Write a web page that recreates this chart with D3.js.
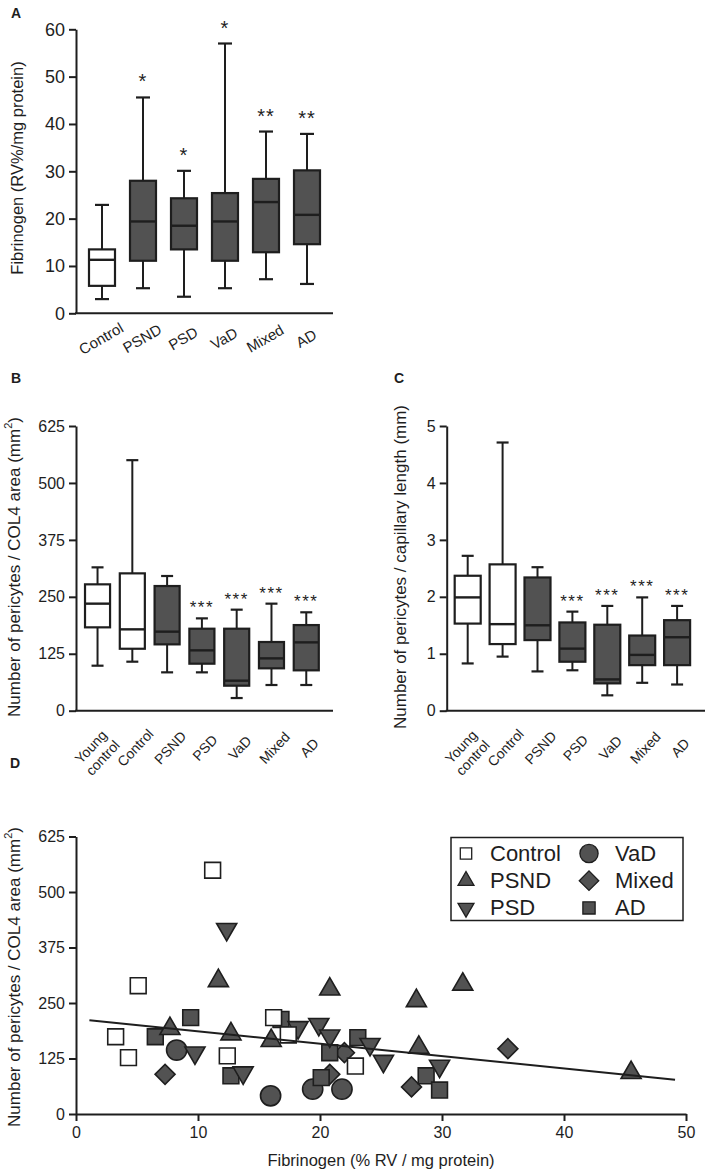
<!DOCTYPE html>
<html><head><meta charset="utf-8">
<script src="https://cdn.jsdelivr.net/npm/d3@7"></script>
<style>
body{margin:0;background:#fff}
svg{display:block}
text{font-family:"Liberation Sans",Arial,sans-serif;fill:#1e1e1e}
</style>
</head><body>
<svg id="c" width="709" height="1174"></svg>
<script>
// ---------- DATA ----------
// Panel A: fibrinogen
const catsA = ["Control","PSND","PSD","VaD","Mixed","AD"];
const minA  = [3.0, 5.3, 3.5, 5.3, 7.2, 6.2];
const q1A   = [5.8, 11.1, 13.5, 11.1, 12.9, 14.6];
const medA  = [11.3, 19.4, 18.5, 19.4, 23.5, 20.8];
const q3A   = [13.5, 28.0, 24.3, 25.4, 28.4, 30.2];
const maxA  = [22.9, 45.6, 30.1, 57.0, 38.4, 37.9];
const sigA  = ["", "*", "*", "*", "**", "**"];
const ticksA = [0, 10, 20, 30, 40, 50, 60];

// Panel B: pericytes / COL4 area
const catsBC = ["Young control","Control","PSND","PSD","VaD","Mixed","AD"];
const minB  = [98.8, 107.6, 84.2, 84.2, 27.8, 56.4, 56.4];
const q1B   = [183, 136, 145.6, 103.2, 54.9, 93, 88.6];
const medB  = [235, 178.6, 173.5, 132.5, 65.9, 114.9, 150];
const q3B   = [277.4, 301.5, 273.7, 180, 180, 150.8, 188];
const maxB  = [314.7, 550, 295.7, 202.7, 221.8, 235, 216];
const sigB  = ["", "", "", "***", "***", "***", "***"];
const ticksB = [0, 125, 250, 375, 500, 625];

// Panel C: pericytes / capillary length
const minC  = [0.83, 0.95, 0.69, 0.71, 0.27, 0.49, 0.46];
const q1C   = [1.53, 1.17, 1.24, 0.86, 0.48, 0.80, 0.80];
const medC  = [1.99, 1.52, 1.50, 1.09, 0.55, 0.98, 1.29];
const q3C   = [2.37, 2.57, 2.34, 1.55, 1.51, 1.32, 1.59];
const maxC  = [2.72, 4.71, 2.52, 1.74, 1.84, 1.99, 1.84];
const sigC  = ["", "", "", "***", "***", "***", "***"];
const ticksC = [0, 1, 2, 3, 4, 5];

// Panel D: scatter (fibrinogen vs pericytes / COL4 area)
const ctrlX = [11.2, 5.1, 3.25, 4.3, 12.4, 16.2, 17.4, 22.9];
const ctrlY = [549, 289, 174, 127, 131, 217, 178, 108];
const psndX = [11.67, 7.7, 12.7, 16.0, 20.8, 27.9, 31.7, 28.1, 45.5];
const psndY = [300, 192, 180, 165, 281, 255, 292, 150, 93];
const psdX  = [12.35, 9.75, 13.7, 18.2, 19.9, 20.8, 24.1, 25.2, 29.8];
const psdY  = [416, 138, 93, 195, 202, 176, 157, 119, 108];
const vadX  = [8.25, 15.95, 19.4, 21.8];
const vadY  = [144, 41, 56, 56];
const mixX  = [7.3, 22.0, 20.8, 27.5, 35.4];
const mixY  = [89.5, 138, 89.5, 61, 147];
const adX   = [9.4, 6.5, 12.7, 16.8, 20.8, 23.1, 20.1, 28.7, 29.8];
const adY   = [217, 174, 86, 213, 138, 172, 82, 86, 54];
const regX  = [1.1, 49.1];
const regY  = [211, 77];
const ticksDx = [0, 10, 20, 30, 40, 50];
const ticksDy = [0, 125, 250, 375, 500, 625];
const legendNames = ["Control","PSND","PSD","VaD","Mixed","AD"];

// ---------- DRAW ----------
const svg = d3.select("#c");
const DARK = "#525252";
const INK = "#1e1e1e";
const fmt = d3.format("~g");

function styleAxis(sel, fs) {
  sel.select(".domain").attr("stroke", INK).attr("stroke-width", 2);
  sel.selectAll(".tick line").attr("stroke", INK).attr("stroke-width", 2);
  sel.selectAll(".tick text").attr("font-size", fs).attr("fill", INK);
}

function boxPanel(c) {
  const g = svg.append("g");
  const y = d3.scaleLinear().domain([0, c.yMax]).range([c.yBot, c.yTop]);
  const x = d3.scaleBand().domain(c.cats).range(c.band).paddingInner(c.padIn).paddingOuter(c.padOut);
  const ya = g.append("g").attr("transform", `translate(${c.x0},0)`)
    .call(d3.axisLeft(y).tickValues(c.ticks).tickFormat(fmt).tickSize(7).tickSizeOuter(0).tickPadding(4));
  styleAxis(ya, c.tickFs);
  g.append("line").attr("x1", c.x0 - 1).attr("x2", c.x1).attr("y1", c.yBot).attr("y2", c.yBot)
    .attr("stroke", INK).attr("stroke-width", 2);
  const bw = x.bandwidth();
  c.cats.forEach((cat, i) => {
    const cx = x(cat) + bw / 2;
    const light = cat.toLowerCase().includes("control");
    g.append("line").attr("x1", cx).attr("x2", cx).attr("y1", y(c.mins[i])).attr("y2", y(c.maxs[i]))
      .attr("stroke", INK).attr("stroke-width", 2);
    [c.mins[i], c.maxs[i]].forEach(v => g.append("line").attr("x1", cx - c.cap / 2).attr("x2", cx + c.cap / 2)
      .attr("y1", y(v)).attr("y2", y(v)).attr("stroke", INK).attr("stroke-width", 2.2));
    g.append("rect").attr("x", x(cat)).attr("width", bw).attr("y", y(c.q3s[i]))
      .attr("height", y(c.q1s[i]) - y(c.q3s[i])).attr("fill", light ? "#fff" : DARK)
      .attr("stroke", INK).attr("stroke-width", 2.2);
    g.append("line").attr("x1", x(cat)).attr("x2", x(cat) + bw).attr("y1", y(c.meds[i])).attr("y2", y(c.meds[i]))
      .attr("stroke", INK).attr("stroke-width", 2.4);
    if (c.sig[i]) {
      g.append("text").attr("x", cx).attr("y", y(c.maxs[i]) - c.starGap).attr("text-anchor", "middle")
        .attr("font-size", c.starFs).attr("letter-spacing", c.starLs).attr("fill", "#333").text(c.sig[i]);
    }
    const lg = g.append("g").attr("transform", `translate(${cx + c.labDx},${c.yBot + c.labDy}) rotate(${c.labAng})`);
    const parts = c.split && cat.includes(" ") ? cat.split(" ") : [cat];
    parts.forEach((p, k) => {
      lg.append("text").attr("x", parts.length > 1 ? c.multiDx : 0)
        .attr("y", 0).attr("dy", parts.length > 1 ? (k === 0 ? "-0.55em" : "0.6em") : "0")
        .attr("dominant-baseline", "central").attr("text-anchor", "middle")
        .attr("font-size", c.labFs).text(p);
    });
  });
  g.append("text").attr("transform", `translate(${c.ylx},${c.yly}) rotate(-90)`)
    .attr("text-anchor", "middle").attr("dominant-baseline", "central")
    .attr("font-size", c.ylFs).html(c.yLabel);
  g.append("text").attr("x", c.plx).attr("y", c.ply).attr("font-weight", "bold").attr("font-size", 14).text(c.panel);
}

boxPanel({cats: catsA, mins: minA, q1s: q1A, meds: medA, q3s: q3A, maxs: maxA, sig: sigA,
  ticks: ticksA, yMax: 60, yBot: 313.3, yTop: 29.3, x0: 76, x1: 333,
  band: [76, 333], padIn: 0.366, padOut: 0.317, cap: 14, tickFs: 18,
  starGap: 9, starFs: 20, starLs: 1, labDx: -1, labDy: 25, labAng: -30, labFs: 15, split: false,
  ylx: 17, yly: 168, ylFs: 16.5, yLabel: "Fibrinogen (RV%/mg protein)", panel: "A", plx: 11, ply: 18});

boxPanel({cats: catsBC, mins: minB, q1s: q1B, meds: medB, q3s: q3B, maxs: maxB, sig: sigB,
  ticks: ticksB, yMax: 625, yBot: 710.7, yTop: 426, x0: 76, x1: 333,
  band: [76, 327.8], padIn: 0.28, padOut: 0.259, cap: 12, tickFs: 16,
  starGap: 5, starFs: 17, starLs: 1.5, labDx: 3, labDy: 37, labAng: -47, labFs: 14, split: true, multiDx: -6,
  ylx: 14, yly: 567, ylFs: 17, yLabel: "Number of pericytes / COL4 area (mm<tspan baseline-shift='super' font-size='11'>2</tspan>)",
  panel: "B", plx: 11, ply: 383});

boxPanel({cats: catsBC, mins: minC, q1s: q1C, meds: medC, q3s: q3C, maxs: maxC, sig: sigC,
  ticks: ticksC, yMax: 5, yBot: 710.7, yTop: 426, x0: 446.7, x1: 705,
  band: [446.7, 698.1], padIn: 0.255, padOut: 0.229, cap: 12, tickFs: 16,
  starGap: 5, starFs: 17, starLs: 1.5, labDx: 3, labDy: 37, labAng: -47, labFs: 14, split: true, multiDx: -6,
  ylx: 400, yly: 567, ylFs: 17, yLabel: "Number of pericytes / capillary length (mm)",
  panel: "C", plx: 394, ply: 383});

// ---------- Panel D ----------
(function () {
  const g = svg.append("g");
  const x = d3.scaleLinear().domain([0, 50]).range([76, 686]);
  const y = d3.scaleLinear().domain([0, 625]).range([1114, 836.5]);
  const ya = g.append("g").attr("transform", "translate(76,0)")
    .call(d3.axisLeft(y).tickValues(ticksDy).tickSize(7).tickSizeOuter(0).tickPadding(4));
  styleAxis(ya, 16);
  const xa = g.append("g").attr("transform", "translate(0,1114)")
    .call(d3.axisBottom(x).tickValues(ticksDx).tickSize(7).tickSizeOuter(0).tickPadding(6));
  styleAxis(xa, 16);

  const groups = [
    {name: "VaD", xs: vadX, ys: vadY, type: d3.symbolCircle, size: 320, rot: 0, fill: DARK},
    {name: "Mixed", xs: mixX, ys: mixY, type: d3.symbolSquare, size: 200, rot: 45, fill: DARK},
    {name: "AD", xs: adX, ys: adY, type: d3.symbolSquare, size: 250, rot: 0, fill: DARK},
    {name: "PSD", xs: psdX, ys: psdY, type: d3.symbolTriangle, size: 175, rot: 180, fill: DARK},
    {name: "PSND", xs: psndX, ys: psndY, type: d3.symbolTriangle, size: 175, rot: 0, fill: DARK},
    {name: "Control", xs: ctrlX, ys: ctrlY, type: d3.symbolSquare, size: 250, rot: 0, fill: "#fff"}
  ];
  groups.forEach(gr => {
    gr.xs.forEach((v, i) => {
      g.append("path").attr("d", d3.symbol().type(gr.type).size(gr.size)())
        .attr("transform", `translate(${x(v)},${y(gr.ys[i])}) rotate(${gr.rot})`)
        .attr("fill", gr.fill).attr("stroke", INK).attr("stroke-width", 1.6);
    });
  });
  g.append("line").attr("x1", x(regX[0])).attr("x2", x(regX[1])).attr("y1", y(regY[0])).attr("y2", y(regY[1]))
    .attr("stroke", INK).attr("stroke-width", 2);

  const lg = g.append("g");
  lg.append("rect").attr("x", 451).attr("y", 837.5).attr("width", 232).attr("height", 83)
    .attr("fill", "#fff").attr("stroke", INK).attr("stroke-width", 1.5);
  const legendSizes = {Control: 130, PSND: 110, PSD: 110, VaD: 260, Mixed: 190, AD: 150};
  legendNames.forEach((nm, i) => {
    const gr = groups.find(d => d.name === nm);
    const col = Math.floor(i / 3), row = i % 3;
    const sx = col === 0 ? 466 : 589, tx = col === 0 ? 490 : 615;
    const yy = 853.5 + row * 27.2;
    lg.append("path").attr("d", d3.symbol().type(gr.type).size(legendSizes[nm])())
      .attr("transform", `translate(${sx},${yy}) rotate(${gr.rot})`)
      .attr("fill", gr.fill).attr("stroke", INK).attr("stroke-width", 1.3);
    lg.append("text").attr("x", tx).attr("y", yy).attr("dominant-baseline", "central")
      .attr("font-size", 22).text(nm);
  });

  g.append("text").attr("x", 381).attr("y", 1160).attr("text-anchor", "middle").attr("dominant-baseline", "central")
    .attr("font-size", 16.5).text("Fibrinogen (% RV / mg protein)");
  g.append("text").attr("transform", "translate(14,977) rotate(-90)").attr("text-anchor", "middle")
    .attr("dominant-baseline", "central").attr("font-size", 17)
    .html("Number of pericytes / COL4 area (mm<tspan baseline-shift='super' font-size='11'>2</tspan>)");
  g.append("text").attr("x", 10).attr("y", 768).attr("font-weight", "bold").attr("font-size", 14).text("D");
})();
</script>
</body></html>
